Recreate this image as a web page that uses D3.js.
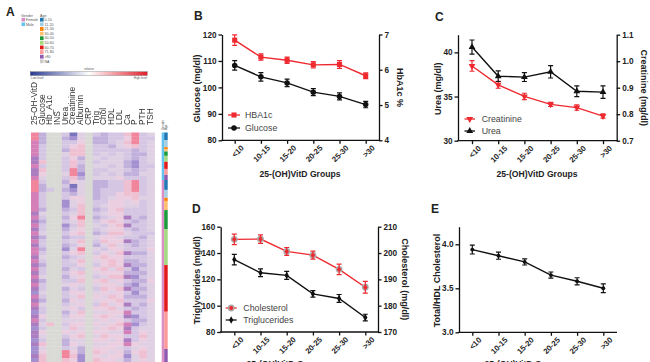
<!DOCTYPE html>
<html><head><meta charset="utf-8">
<script src="https://cdn.jsdelivr.net/npm/d3@7"></script>
<style>html,body{margin:0;padding:0;background:#fff;overflow:hidden}svg{display:block}text{font-family:"Liberation Sans",Arial,sans-serif}</style>
</head><body><svg id="c" width="650" height="362"></svg>
<script>
const groups = ["<10","10-15","15-20","20-25","25-30",">30"];
const glucose = [108.3,104,101.7,98.2,96.6,93.5];
const glucoseErr = [1.8,1.6,1.4,1.3,1.3,1.2];
const hba1c = [6.84,6.36,6.27,6.14,6.15,5.83];
const hba1cErr = [0.15,0.09,0.09,0.09,0.11,0.08];
const urea = [40.6,37.3,37.2,37.8,35.6,35.5];
const ureaErr = [0.8,0.6,0.5,0.7,0.6,0.7];
const creatinine = [0.982,0.911,0.867,0.837,0.825,0.793];
const creatinineErr = [0.02,0.013,0.012,0.008,0.01,0.008];
const triglycerides = [135,125,123,109,105.5,91];
const triglyceridesErr = [4,3,3,2.5,3,2.5];
const cholesterol = [205.2,205.3,200.6,199.2,193.8,187];
const cholesterolErr = [2,1.6,1.5,1.5,2,2.2];
const ratio = [3.94,3.87,3.80,3.65,3.58,3.50];
const ratioErr = [0.05,0.04,0.035,0.035,0.04,0.05];

const heatColumns = ["25-OH-VitD","Glucose","Hb_A1c","INS","Urea","Creatinine","Albumin","CRP","Trig","Chol","HDL","LDL","Ca","P","PTH","TSH"];
// One digit per column: an estimated level; "." is a missing value.
const heatRows = [
"92..304.32336934","92..214.22335933","82..335.22346934","83..356.33245634",
"83..266.33333234","83..466.34343224","73..352.43443234","76..363.34442134",
"83..362.44342133","76..392.33443234","75..491.34342244","84..362.44453334",
"93..254.22336934","92..304.22336934","923.214.23336934","83..324.23356634",
"83..355.23455644","83..145.33554534","83..146.34554434","82..236.23563334",
"74..346.34553334","83..259.23457324","72..346.35653234","83..136.43567334",
"73..245.34553234","84..356.23664333","72..233.45543324","83..346.36557234",
"73..235.24643234","82..149.43553335","83..356.35467224","74..234.56553334",
"83..346.45652234","72..335.35657224","83..243.56463134","73..356.45552224",
"84..245.34667134","72..336.56453225","83..454.45542134","73..243.36567224",
"14..355.45453134","83..346.54652224","72..254.45563335","84..345.36457324",
"73..453.55643234","13..246.44558334","75..355.56547134","83..444.45453224",
"746.355.54568134","13..464.45657344","75..545.55448354","74..356.46553364",
"13..244.55457354","76..254.44558544","14..342.55543454","15..952.65452564",
"76..961.54551464","16..651.65542454"
];
const levelColors = ["#7a74bc","#a490d0","#c1b0dc","#d5c6e4","#e0d0e4","#ebcfe0","#efc0d2","#ac7cc0","#d47fb8","#f0859b"];
const naColor = "#d9d9d6";

const genders = ["Female","Male"];
const genderColors = ["#d98fc6","#63c3f0"];
const ageGroups = ["0-10","11-20","21-30","30-40","40-50","50-60","60-70","71-80",">80","NA"];
const ageColors = ["#1f78b4","#a6cee3","#ff7f00","#fdbf6f","#1a9b3c","#a3d97f","#e31a1c","#fb9a99","#8e5ab0","#cccccc"];
const maleAgeRows = [1.9,1.8,0.5,0.6,1.1,1.5,1.8,1.5,1.3];
const femaleAgeRows = [2.5,2,0.8,2.3,4.8,9.1,11.8,9.4,3.3];
const maleRows = 12;

const svg = d3.select("#c");
const ink = "#222";

// ---------- Panel A ----------
const letter = (t,x,y)=>svg.append("text").attr("x",x).attr("y",y).attr("font-size",12).attr("font-weight","bold").attr("fill",ink).text(t);
letter("A",6,16); letter("B",194,20); letter("C",435,21); letter("D",192,213); letter("E",431,213);

const hx = d3.scaleBand().domain(heatColumns).range([31,154.6]);
const hy = d3.scaleLinear().domain([0,heatRows.length]).range([132.5,362]);
const heat = svg.append("g").style("filter","blur(0.6px)");
heatRows.forEach((row,r)=>{
  heat.selectAll(null).data(heatColumns).enter().append("rect")
    .attr("x",d=>hx(d)).attr("width",hx.bandwidth()+0.3)
    .attr("y",hy(r)).attr("height",hy(r+1)-hy(r)+0.3)
    .attr("fill",(d,i)=>row[i]==="."?naColor:levelColors[+row[i]]);
});
svg.append("g").style("filter","blur(0.25px)").selectAll("text").data(heatColumns).enter().append("text")
  .attr("transform",d=>`translate(${hx(d)+hx.bandwidth()/2+2},125) rotate(-90)`)
  .attr("font-size",8.4).attr("fill","#333").text(d=>d);

// annotation bars
const ann = svg.append("g").style("filter","blur(0.3px)");
ann.append("rect").attr("x",161.7).attr("width",2.5).attr("y",hy(0)).attr("height",hy(maleRows)-hy(0)).attr("fill",genderColors[1]);
ann.append("rect").attr("x",161.7).attr("width",2.5).attr("y",hy(maleRows)).attr("height",hy(heatRows.length)-hy(maleRows)).attr("fill",genderColors[0]);
[[maleAgeRows,0],[femaleAgeRows,maleRows]].forEach(([counts,start])=>{
  let pos=start;
  counts.forEach((c,i)=>{
    ann.append("rect").attr("x",164.2).attr("width",3.5).attr("y",hy(pos)).attr("height",hy(pos+c)-hy(pos)).attr("fill",ageColors[i]);
    pos+=c;
  });
});
["Gender","Age"].forEach((t,i)=>svg.append("text").attr("transform",`translate(${163.5+i*3},130) rotate(-90)`).attr("font-size",3).attr("fill","#555").text(t));

// legends
const tiny = (t,x,y,s=3.6)=>svg.append("text").attr("x",x).attr("y",y).attr("font-size",s).attr("fill","#555").text(t);
tiny("Gender",21,16.5);
genders.forEach((g,i)=>{
  const y=19.7+i*4.6;
  svg.append("rect").attr("x",21.5).attr("y",y-1.8).attr("width",3.6).attr("height",3.6).attr("fill",genderColors[i]);
  tiny(g,26,y+1.2);
});
tiny("Age",40,16.5);
const ageLegendY = d3.scalePoint().domain(ageGroups).range([19.7,61.3]);
ageGroups.forEach((a,i)=>{
  const y=ageLegendY(a);
  svg.append("rect").attr("x",40).attr("y",y-1.9).attr("width",3.6).attr("height",3.8).attr("fill",ageColors[i]);
  tiny(a,44.5,y+1.2);
});
// colour bar
const grad = svg.append("defs").append("linearGradient").attr("id","g1");
[["0%","#2a3a8f"],["50%","#ffffff"],["100%","#e01f2b"]].forEach(s=>grad.append("stop").attr("offset",s[0]).attr("stop-color",s[1]));
svg.append("rect").attr("x",30.3).attr("y",71.7).attr("width",117).attr("height",3.8).attr("fill","url(#g1)").attr("stroke","#555").attr("stroke-width",0.3);
tiny("relative",89,70.3,3).attr("text-anchor","middle");
tiny("Low level",31,78.5,3);
tiny("High level",147,78.5,3).attr("text-anchor","end");

// ---------- Line panels ----------
const sym = {
  square:d3.symbol().type(d3.symbolSquare).size(26)(),
  circle:d3.symbol().type(d3.symbolCircle).size(24)(),
  tri:d3.symbol().type(d3.symbolTriangle).size(20)(),
  dot:d3.symbol().type(d3.symbolCircle).size(12)(),
  diamond:d3.symbol().type(d3.symbolDiamond).size(16)()
};
const red="#ee2a30", black="#111";

function drawMark(g,s,x,y){
  if(s.halo) g.append("circle").attr("cx",x).attr("cy",y).attr("r",3.4).attr("fill","#aaa");
  g.append("path").attr("d",sym[s.sym]).attr("fill",s.color)
    .attr("transform",`translate(${x},${y})${s.flip?" rotate(180)":""}`);
}
function panel(p){
  const g=svg.append("g");
  const x=d3.scalePoint().domain(groups).range(p.cat);
  const yL=d3.scaleLinear().domain(p.left.domain).range([p.y0,p.y1]);
  const yR=p.right?d3.scaleLinear().domain(p.right.domain).range([p.y0,p.y1]):null;
  const style=a=>{a.selectAll("path,line").attr("stroke",black).attr("stroke-width",1.3);
    a.selectAll("text").attr("font-family",'"Liberation Sans",Arial,sans-serif').attr("font-weight","bold").attr("fill",ink);};
  const la=g.append("g").attr("transform",`translate(${p.xL},0)`)
    .call(d3.axisLeft(yL).tickValues(p.left.ticks).tickFormat(d3.format(p.left.fmt)).tickSize(3.5).tickSizeOuter(0).tickPadding(2));
  style(la); la.selectAll("text").attr("font-size",8.2);
  if(yR){
    const ra=g.append("g").attr("transform",`translate(${p.xR},0)`)
      .call(d3.axisRight(yR).tickValues(p.right.ticks).tickFormat(d3.format(p.right.fmt)).tickSize(3.5).tickSizeOuter(0).tickPadding(2));
    style(ra); ra.selectAll("text").attr("font-size",8.2);
    g.append("text").attr("transform",`translate(${p.rightTitleX},${(p.y0+p.y1)/2}) rotate(90)`)
      .attr("text-anchor","middle").attr("font-size",9).attr("font-weight","bold").attr("fill",ink).text(p.right.title);
  }
  const ba=g.append("g").attr("transform",`translate(0,${p.y0})`)
    .call(d3.axisBottom(x).tickSize(3.5).tickSizeOuter(0).tickPadding(2));
  ba.select(".domain").remove();
  style(ba);
  ba.selectAll("text").attr("font-size",7.8).attr("text-anchor","end")
    .attr("transform","translate(2,1) rotate(-45)").attr("dx",0).attr("dy","0.6em");
  g.append("line").attr("x1",p.xL-0.6).attr("x2",p.xEnd).attr("y1",p.y0).attr("y2",p.y0).attr("stroke",black).attr("stroke-width",1.3);
  g.append("text").attr("transform",`translate(${p.leftTitleX},${(p.y0+p.y1)/2+1}) rotate(-90)`)
    .attr("text-anchor","middle").attr("font-size",9).attr("font-weight","bold").attr("fill",ink).text(p.left.title);
  g.append("text").attr("x",p.xTitle).attr("y",p.xTitleY).attr("text-anchor","middle")
    .attr("font-size",8.6).attr("font-weight","bold").attr("fill",ink).text("25-(OH)VitD Groups");
  p.series.forEach(s=>{
    const y=s.axis==="R"?yR:yL;
    const gs=g.append("g").style("filter","blur(0.2px)");
    gs.append("path").attr("d",d3.line().x((d,i)=>x(groups[i])).y(d=>y(d))(s.values))
      .attr("fill","none").attr("stroke",s.color).attr("stroke-width",1.4);
    s.values.forEach((v,i)=>{
      const cx=x(groups[i]);
      const a=y(v+s.err[i]),b=y(v-s.err[i]);
      if(s.halo) gs.append("circle").attr("cx",cx).attr("cy",y(v)).attr("r",3.4).attr("fill","#aaa");
      gs.append("path").attr("d",`M${cx-2.5},${a}H${cx+2.5}M${cx},${a}V${b}M${cx-2.5},${b}H${cx+2.5}`)
        .attr("fill","none").attr("stroke",s.color).attr("stroke-width",1.2);
      gs.append("path").attr("d",sym[s.sym]).attr("fill",s.color)
        .attr("transform",`translate(${cx},${y(v)})${s.flip?" rotate(180)":""}`);
    });
    if(s.label){
      g.append("line").attr("x1",p.legX[0]).attr("x2",p.legX[1]).attr("y1",s.legY).attr("y2",s.legY).attr("stroke",s.color).attr("stroke-width",1.3);
      drawMark(g,s,(p.legX[0]+p.legX[1])/2,s.legY);
      g.append("text").attr("x",p.legX[2]).attr("y",s.legY+3.2).attr("font-size",8.8).attr("fill","#444").text(s.label);
    }
  });
}

panel({cat:[234.7,365.7],y0:140.3,y1:34.5,xL:222,xR:379,xEnd:379.6,leftTitleX:200,rightTitleX:397,xTitle:300,xTitleY:176.5,legX:[228,240,245],
  left:{domain:[80,120],ticks:[80,90,100,110,120],fmt:"d",title:"Glucose (mg/dl)"},
  right:{domain:[4,7],ticks:[4,5,6,7],fmt:"d",title:"HbA1c %"},
  series:[{values:hba1c,err:hba1cErr,axis:"R",color:red,sym:"square",label:"HBA1c",legY:115},
          {values:glucose,err:glucoseErr,axis:"L",color:black,sym:"circle",label:"Glucose",legY:128}]});
panel({cat:[472,603],y0:140.7,y1:34.7,xL:458,xR:616.7,xEnd:617.3,leftTitleX:441,rightTitleX:641,xTitle:537,xTitleY:176.5,legX:[464.5,475,481.7],
  left:{domain:[30,42],ticks:[30,35,40],fmt:"d",title:"Urea (mg/dl)"},
  right:{domain:[0.7,1.1],ticks:[0.7,0.8,0.9,1.0,1.1],fmt:".1f",title:"Creatinine (mg/dl)"},
  series:[{values:creatinine,err:creatinineErr,axis:"R",color:red,sym:"tri",flip:true,label:"Creatinine",legY:119},
          {values:urea,err:ureaErr,axis:"L",color:black,sym:"tri",label:"Urea",legY:131}]});
panel({cat:[234.3,365.3],y0:332,y1:226.7,xL:220.7,xR:378,xEnd:378.6,leftTitleX:200,rightTitleX:402,xTitle:287,xTitleY:367,legX:[225.7,236.7,243.3],
  left:{domain:[80,160],ticks:[80,100,120,140,160],fmt:"d",title:"Triglycerides (mg/dl)"},
  right:{domain:[170,210],ticks:[170,180,190,200,210],fmt:"d",title:"Cholesterol (mg/dl)"},
  series:[{values:cholesterol,err:cholesterolErr,axis:"R",color:red,sym:"dot",halo:true,label:"Cholesterol",legY:308},
          {values:triglycerides,err:triglyceridesErr,axis:"L",color:black,sym:"diamond",label:"Triglucerides",legY:320}]});
panel({cat:[472.3,603.3],y0:332.3,y1:226.7,xL:459,xEnd:617,leftTitleX:440,xTitle:525,xTitleY:367,
  left:{domain:[3,4.2],ticks:[3,3.5,4],fmt:".1f",title:"Total/HDL Cholesterol"},
  series:[{values:ratio,err:ratioErr,axis:"L",color:black,sym:"dot"}]});
</script></body></html>
